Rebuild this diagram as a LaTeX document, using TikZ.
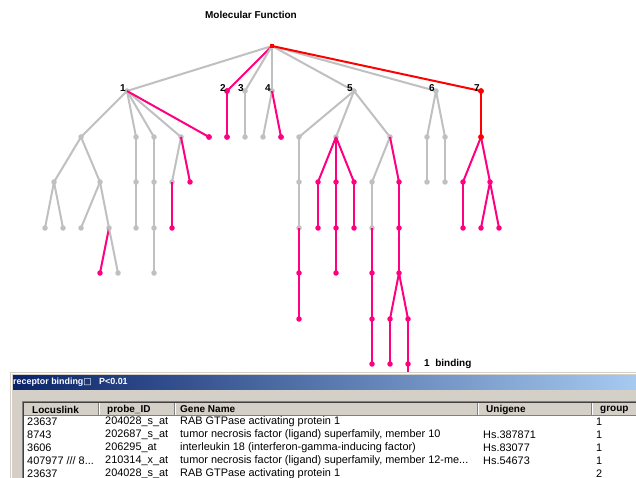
\documentclass[tikz,border=0pt]{standalone}
\usepackage{fontspec}
\setmainfont{Liberation Sans}
\newfontfamily\symfont{DejaVu Sans}
\usetikzlibrary{positioning}

\definecolor{gy}{RGB}{192,192,192}
\definecolor{pk}{RGB}{255,0,128}
\definecolor{rd}{RGB}{255,0,0}
\definecolor{wingray}{RGB}{212,208,200}
\definecolor{winshadow}{RGB}{128,128,128}
\definecolor{navy}{RGB}{10,36,106}
\definecolor{skyblue}{RGB}{166,202,240}

\begin{document}
\begin{tikzpicture}[x=1pt, y=-1pt, font=\fontsize{10.9}{12}\selectfont,
    dot/.style={circle, fill=#1, inner sep=0pt, minimum size=5.5pt},
    link/.style={draw=#1, line width=2pt},
    lvl/.style={font=\bfseries\fontsize{10}{12}\selectfont, inner sep=0pt},
    hdr/.style={font=\bfseries\fontsize{10}{12}\selectfont, anchor=west, inner sep=0pt},
    cell/.style={anchor=west, inner sep=0pt}
]
\clip (0,0) rectangle (636,478);
\fill[white] (0,0) rectangle (636,478);

\node[lvl] (title) at (251,15) {Molecular Function};

% GO tree: x = 45 + 9.085*h, one level every 45.5
\node[rectangle, fill=rd, inner sep=0pt, minimum size=4pt] (n0-25) at ({round(45+9.085*25)},46) {};
\foreach \h/\col in {9/gy,20/pk,22/gy,25/gy,34/gy,43/gy,48/rd}
    \node[dot=\col] (n1-\h) at ({round(45+9.085*\h)},91) {};
\foreach \h/\col in {4/gy,10/gy,12/gy,15/gy,18/pk,20/pk,22/gy,24/gy,26/pk,28/gy,32/gy,38/gy,42/gy,44/gy,48/rd}
    \node[dot=\col] (n2-\h) at ({round(45+9.085*\h)},137) {};
\foreach \h/\col in {1/gy,6/gy,10/gy,12/gy,14/gy,16/pk,28/gy,30/pk,32/pk,34/pk,36/gy,39/pk,42/gy,44/gy,46/pk,49/pk}
    \node[dot=\col] (n3-\h) at ({round(45+9.085*\h)},182) {};
\foreach \h/\col in {0/gy,2/gy,4/gy,7/gy,10/gy,12/gy,14/pk,28/gy,30/pk,32/pk,34/pk,36/gy,39/pk,46/pk,48/pk,50/pk}
    \node[dot=\col] (n4-\h) at ({round(45+9.085*\h)},228) {};
\foreach \h/\col in {6/pk,8/gy,12/gy,28/pk,32/pk,36/pk,39/pk}
    \node[dot=\col] (n5-\h) at ({round(45+9.085*\h)},273) {};
\foreach \h/\col in {28/pk,36/pk,38/pk,40/pk}
    \node[dot=\col] (n6-\h) at ({round(45+9.085*\h)},319) {};
\foreach \h/\col in {36/pk,38/pk,40/pk}
    \node[dot=\col] (n7-\h) at ({round(45+9.085*\h)},364) {};
\coordinate (n8-40) at ({round(45+9.085*40)},410);

\foreach \a/\b/\col in {n0-25/n1-9/gy, n0-25/n1-20/pk, n0-25/n1-22/gy, n0-25/n1-25/gy,
    n0-25/n1-34/gy, n0-25/n1-43/gy, n0-25/n1-48/rd,
    n1-9/n2-4/gy, n1-9/n2-10/gy, n1-9/n2-12/gy, n1-9/n2-15/gy, n1-9/n2-18/pk,
    n1-20/n2-20/pk, n1-22/n2-22/gy, n1-25/n2-24/gy, n1-25/n2-26/pk,
    n1-34/n2-28/gy, n1-34/n2-32/gy, n1-34/n2-38/gy, n1-43/n2-42/gy, n1-43/n2-44/gy, n1-48/n2-48/rd,
    n2-4/n3-1/gy, n2-4/n3-6/gy, n2-10/n3-10/gy, n2-12/n3-12/gy, n2-15/n3-14/gy, n2-15/n3-16/pk,
    n2-28/n3-28/gy, n2-32/n3-30/pk, n2-32/n3-32/pk, n2-32/n3-34/pk, n2-38/n3-36/gy, n2-38/n3-39/pk,
    n2-42/n3-42/gy, n2-44/n3-44/gy, n2-48/n3-46/pk, n2-48/n3-49/pk,
    n3-1/n4-0/gy, n3-1/n4-2/gy, n3-6/n4-4/gy, n3-6/n4-7/gy, n3-10/n4-10/gy, n3-12/n4-12/gy,
    n3-14/n4-14/pk, n3-28/n4-28/gy, n3-30/n4-30/pk, n3-32/n4-32/pk, n3-34/n4-34/pk,
    n3-36/n4-36/gy, n3-39/n4-39/pk, n3-46/n4-46/pk, n3-49/n4-48/pk, n3-49/n4-50/pk,
    n4-7/n5-6/pk, n4-7/n5-8/gy, n4-12/n5-12/gy, n4-28/n5-28/pk, n4-32/n5-32/pk,
    n4-36/n5-36/pk, n4-39/n5-39/pk,
    n5-28/n6-28/pk, n5-36/n6-36/pk, n5-39/n6-38/pk, n5-39/n6-40/pk,
    n6-36/n7-36/pk, n6-38/n7-38/pk, n6-40/n7-40/pk, n7-40/n8-40/pk}
    \draw[link=\col] (\a.center) -- (\b.center);

% dots again on top of the links
\foreach \n/\col in {n1-20/pk,n1-48/rd,n2-18/pk,n2-20/pk,n2-26/pk,n2-48/rd}
    \fill[\col] (\n.center) circle (2.75pt);
\fill[rd] ([shift={(-2pt,-2pt)}]n0-25.center) rectangle ([shift={(2pt,2pt)}]n0-25.center);

\foreach \h/\t in {9/1,20/2,22/3,25/4,34/5,43/6,48/7}
    \node[lvl, anchor=south east] (lab-\t) at ([xshift=-1pt, yshift=-1pt]n1-\h.center) {\t};
\node[lvl, right=13pt of n7-40] (binding) {1\ \ binding};

% result window
\fill[wingray] (10,372) rectangle (636,478);
\draw[white] (11,478) -- (11,373) -- (636,373);
\shade[left color=navy, right color=skyblue] (13,375) rectangle (636,389);
\node[anchor=west, text=white, inner sep=0pt, font=\bfseries\fontsize{8.9}{10}\selectfont] (wintitle)
    at (13,382) {receptor binding{\symfont □}\ \ \ P<0.01};

\fill[white] (23,402) rectangle (636,478);
\draw[winshadow] (22.5,478) -- (22.5,401.5) -- (636,401.5);
\draw[black!75] (23.5,478) -- (23.5,402.5) -- (636,402.5);
\fill[wingray] (24,403) rectangle (636,416);
\foreach \sx in {99,175,478,592} {
    \draw[winshadow] (\sx-1,403) -- (\sx-1,416);
    \draw[white] (\sx,403) -- (\sx,416);
}
\draw[winshadow] (24,415.5) -- (636,415.5);
\node[hdr] (h-ll) at (32,409.5) {Locuslink};
\node[hdr] (h-pid) at (107,409.5) {probe\_ID};
\node[hdr] (h-gn) at (180,409.5) {Gene Name};
\node[hdr] (h-ug) at (486,409.5) {Unigene};
\node[hdr] (h-gp) at (600,409.5) {group};

\foreach \r/\ll/\pid/\gn/\ug/\gp in {
    1/23637/204028\_s\_at/RAB GTPase activating protein 1/{}/1,
    2/8743/202687\_s\_at/{tumor necrosis factor (ligand) superfamily, member 10}/Hs.387871/1,
    3/3606/206295\_at/interleukin 18 (interferon-gamma-inducing factor)/Hs.83077/1,
    4/{407977 /// 8...}/210314\_x\_at/{tumor necrosis factor (ligand) superfamily, member 12-me...}/Hs.54673/1,
    5/23637/204028\_s\_at/RAB GTPase activating protein 1/{}/2} {
    \node[cell] (ll-\r) at (27,{408.6+13.1*\r}) {\ll};
    \node[cell] (pid-\r) at (105,{408.6+13.1*\r}) {\pid};
    \node[cell] (gn-\r) at (180,{408.6+13.1*\r}) {\gn};
    \node[cell] (ug-\r) at (483,{408.6+13.1*\r}) {\ug};
    \node[cell] (gp-\r) at (596,{408.6+13.1*\r}) {\gp};
}
\end{tikzpicture}
\end{document}
